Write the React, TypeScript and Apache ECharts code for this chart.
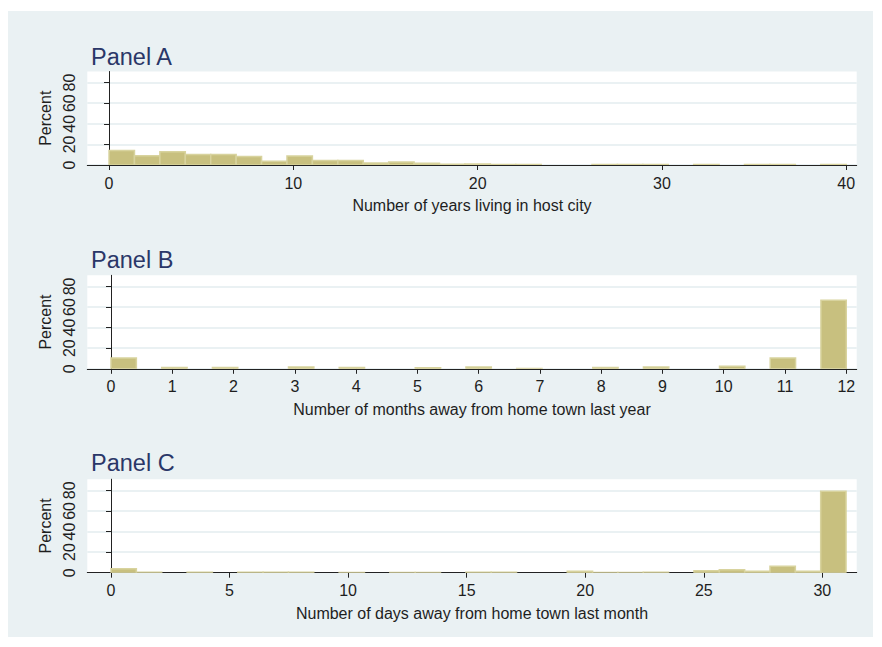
import React, { useEffect, useRef } from "react";
import * as echarts from "echarts";

// ---------- data ----------
const panelTitles = ["Panel A", "Panel B", "Panel C"];
const xAxisTitles = [
  "Number of years living in host city",
  "Number of months away from home town last year",
  "Number of days away from home town last month",
];
const yAxisTitle = "Percent";
const binCount = 29;
const dataRangeA = [0, 40];
const dataRangeB = [0, 12];
const dataRangeC = [0, 31];
const percentA = [14, 9, 12.8, 10.3, 10.3, 8.3, 3.7, 8.7, 4.3, 4.3, 2, 3, 1.7, 0.7, 1, 0.5, 0.5, 0, 0, 0.5, 0.5, 0.5, 0, 0.5, 0, 0.5, 0.5, 0, 0.5];
const percentB = [10.6, 0, 1.2, 0, 1.2, 0, 0, 1.8, 0, 1.2, 0, 0, 0.9, 0, 1.8, 0, 0.4, 0, 0, 1.2, 0, 1.8, 0, 0, 2.4, 0, 10.6, 0, 66.5];
const percentC = [3.9, 0.5, 0, 0.5, 0, 0.5, 0.5, 0.5, 0, 0.3, 0, 0.3, 0.3, 0, 0.5, 0.5, 0, 0, 1.5, 0.3, 0.2, 0.5, 0, 1.9, 2.9, 1.5, 6.2, 1.5, 79];
const xTicksA = [0, 10, 20, 30, 40];
const xTicksB = [0, 1, 2, 3, 4, 5, 6, 7, 8, 9, 10, 11, 12];
const xTicksC = [0, 5, 10, 15, 20, 25, 30];
const yTicks = [0, 20, 40, 60, 80];

// ---------- layout / style ----------
const xMins = [-1.18, -0.387, -1.0];
const xMaxs = [40.57, 12.17, 31.45];
const yMax = 90.8;
const gridTops = [71.5, 275.3, 479.2];
const gridHeight = 93.5;
const titleCenters = [57.3, 259.7, 463.3];
const FONT = "Liberation Sans, Arial, sans-serif";
const BG = "#eaf1f3";
const TEXT = "#1e1e1e";
const AXIS = "#222";
const BAR_FILL = "#c8c07f";
const BAR_STROKE = "#d8d39e";
const FS = 16;

function bins(range: number[], percents: number[]) {
  const w = (range[1] - range[0]) / binCount;
  return percents
    .map((p, k) => [range[0] + k * w, range[0] + (k + 1) * w, p])
    .filter((d) => d[2] > 0);
}

export default function App() {
  const ref = useRef<HTMLDivElement>(null);
  useEffect(() => {
    if (!ref.current) return;
    const chart = echarts.init(ref.current, null, { renderer: "svg" });
    const ranges = [dataRangeA, dataRangeB, dataRangeC];
    const percents = [percentA, percentB, percentC];
    const xTicks = [xTicksA, xTicksB, xTicksC];
    const idx = [0, 1, 2];

    const renderItem = (params: any, api: any) => {
      const p0 = api.coord([api.value(0), api.value(2)]);
      const p1 = api.coord([api.value(1), 0]);
      return {
        type: "rect",
        shape: { x: p0[0], y: p0[1], width: p1[0] - p0[0], height: p1[1] - p0[1] },
        style: { fill: BAR_FILL, stroke: BAR_STROKE, lineWidth: 1.5 },
      };
    };

    chart.setOption({
      animation: false,
      backgroundColor: BG,
      grid: idx.map((i) => ({
        left: 87.3,
        right: 25.3,
        top: gridTops[i],
        height: gridHeight,
        show: true,
        backgroundColor: "#ffffff",
        borderWidth: 0,
      })),
      xAxis: idx.map((i) => ({
        gridIndex: i,
        type: "value",
        min: xMins[i],
        max: xMaxs[i],
        axisLine: { show: true, onZero: false, lineStyle: { color: AXIS, width: 1 } },
        axisTick: { show: true, customValues: xTicks[i], length: 5, lineStyle: { color: AXIS } },
        axisLabel: { customValues: xTicks[i], margin: 10, fontSize: FS, color: TEXT, fontFamily: FONT },
        splitLine: { show: false },
        name: xAxisTitles[i],
        nameLocation: "middle",
        nameGap: 32.5,
        nameTextStyle: { fontSize: FS, color: TEXT, fontFamily: FONT },
      })),
      yAxis: idx.map((i) => ({
        gridIndex: i,
        type: "value",
        min: 0,
        max: yMax,
        interval: 20,
        axisLine: { show: true, lineStyle: { color: AXIS, width: 1 } },
        axisTick: { show: true, customValues: yTicks, length: 5, lineStyle: { color: AXIS } },
        axisLabel: { customValues: yTicks, rotate: 90, margin: 10, fontSize: FS, color: TEXT, fontFamily: FONT },
        splitLine: { show: true, lineStyle: { color: BG, width: 2 } },
        name: yAxisTitle,
        nameLocation: "middle",
        nameGap: 30.3,
        nameRotate: 90,
        nameTextStyle: { fontSize: FS, color: TEXT, fontFamily: FONT },
      })),
      series: idx.map((i) => ({
        type: "custom",
        xAxisIndex: i,
        yAxisIndex: i,
        renderItem,
        encode: { x: [0, 1], y: 2 },
        data: bins(ranges[i], percents[i]),
        clip: true,
      })),
      graphic: [
        { type: "rect", shape: { x: 0, y: 0, width: 882, height: 11 }, style: { fill: "#fff" }, silent: true },
        { type: "rect", shape: { x: 0, y: 0, width: 8, height: 647 }, style: { fill: "#fff" }, silent: true },
        { type: "rect", shape: { x: 873, y: 0, width: 9, height: 647 }, style: { fill: "#fff" }, silent: true },
        { type: "rect", shape: { x: 0, y: 637, width: 882, height: 10 }, style: { fill: "#fff" }, silent: true },
        ...idx.map((i) => ({
          type: "text",
          x: 91,
          y: titleCenters[i],
          style: {
            text: panelTitles[i],
            fontSize: 23.5,
            fontFamily: FONT,
            fill: "#2a3768",
            verticalAlign: "middle",
            align: "left",
          },
        })),
      ],
    });
    return () => chart.dispose();
  }, []);
  return (
    <div
      ref={ref}
      style={{ position: "fixed", left: 0, top: 0, width: 882, height: 647 }}
    />
  );
}
